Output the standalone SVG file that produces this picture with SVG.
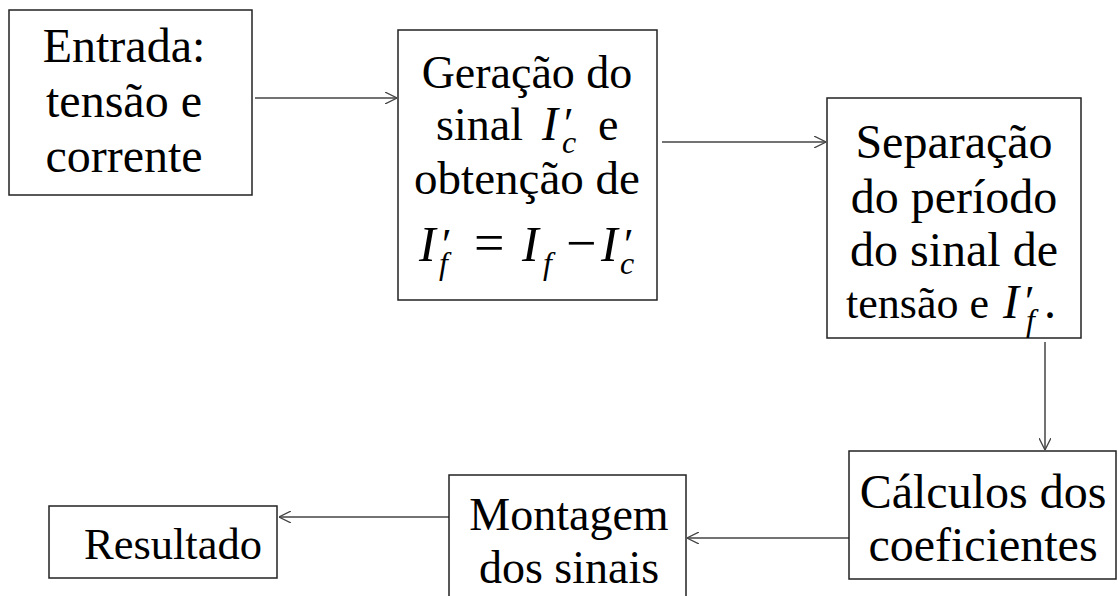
<svg xmlns="http://www.w3.org/2000/svg" width="1118" height="596" viewBox="0 0 1118 596">
  <style>
    .box { fill: #ffffff; stroke: #222222; stroke-width: 1.5; }
    .lbl { font-family: "Liberation Serif", "Times New Roman", serif; font-size: 48px; fill: #000000; text-anchor: middle; }
    .st { text-anchor: start; }
    .en { text-anchor: end; }
    .mi { font-style: italic; }
    .sub { font-style: italic; font-size: 32px; }
    .pr { font-size: 44px; }
    .link { fill: none; stroke: #444444; stroke-width: 1.5; }
  </style>
  <defs>
    <marker id="arrow" viewBox="0 0 12 12" refX="12" refY="6" markerWidth="12" markerHeight="12" markerUnits="userSpaceOnUse" orient="auto">
      <path d="M0,0 L12,6 L0,12" fill="none" stroke="#444444" stroke-width="1.3"/>
    </marker>
  </defs>
  <rect width="1118" height="596" fill="#ffffff"/>

  <g id="connectors">
    <line class="link" x1="255" y1="98" x2="397" y2="98" marker-end="url(#arrow)"/>
    <line class="link" x1="662" y1="142" x2="826" y2="142" marker-end="url(#arrow)"/>
    <line class="link" x1="1045" y1="342" x2="1045" y2="450" marker-end="url(#arrow)"/>
    <line class="link" x1="849" y1="538" x2="687" y2="538" marker-end="url(#arrow)"/>
    <line class="link" x1="449" y1="517" x2="279" y2="517" marker-end="url(#arrow)"/>
  </g>

  <g id="entrada">
    <rect class="box" x="9" y="10" width="243" height="185"/>
    <text class="lbl" x="124" y="62">Entrada:</text>
    <text class="lbl" x="124" y="117">tensão e</text>
    <text class="lbl" x="124" y="172">corrente</text>
  </g>

  <g id="geracao">
    <rect class="box" x="398" y="30" width="259" height="270"/>
    <text class="lbl" x="527" y="88" style="font-size:46px">Geração do</text>
    <text class="lbl en" x="523" y="140" style="font-size:46px">sinal</text>
    <text class="lbl st" y="140"><tspan class="mi" x="542">I</tspan><tspan class="pr" x="564" y="138">′</tspan><tspan class="sub" x="562" y="153">c</tspan><tspan x="598" y="140" style="font-size:46px">e</tspan></text>
    <text class="lbl" x="527" y="194" style="font-size:47px">obtenção de</text>
    <text class="lbl st" y="261" style="font-size:50px"><tspan class="mi" x="419">I</tspan><tspan class="pr" x="442" y="259">′</tspan><tspan class="sub" x="439" y="274">f</tspan><tspan x="474" y="261" style="font-size:54px">=</tspan><tspan class="mi" x="522" y="261">I</tspan><tspan class="sub" x="543" y="274">f</tspan><tspan x="566" y="261" style="font-size:54px">−</tspan><tspan class="mi" x="601" y="261">I</tspan><tspan class="pr" x="624" y="259">′</tspan><tspan class="sub" x="620" y="274">c</tspan></text>
  </g>

  <g id="separacao">
    <rect class="box" x="827" y="98" width="254" height="240"/>
    <text class="lbl" x="954" y="158">Separação</text>
    <text class="lbl" x="954" y="213">do período</text>
    <text class="lbl" x="954" y="266">do sinal de</text>
    <text class="lbl en" x="989" y="318" style="font-size:44px">tensão e</text>
    <text class="lbl st" y="318"><tspan class="mi" x="1003">I</tspan><tspan class="pr" x="1025" y="316">′</tspan><tspan class="sub" x="1026" y="331">f</tspan><tspan x="1044" y="318">.</tspan></text>
  </g>

  <g id="calculos">
    <rect class="box" x="849" y="451" width="267" height="128"/>
    <text class="lbl" x="983" y="508">Cálculos dos</text>
    <text class="lbl" x="983" y="561">coeficientes</text>
  </g>

  <g id="montagem">
    <rect class="box" x="449" y="475" width="237" height="130"/>
    <text class="lbl" x="569" y="530" style="font-size:46px">Montagem</text>
    <text class="lbl" x="569" y="583" style="font-size:46px">dos sinais</text>
  </g>

  <g id="resultado">
    <rect class="box" x="49" y="506" width="228" height="72"/>
    <text class="lbl" x="173" y="559" style="font-size:44.5px">Resultado</text>
  </g>
</svg>
